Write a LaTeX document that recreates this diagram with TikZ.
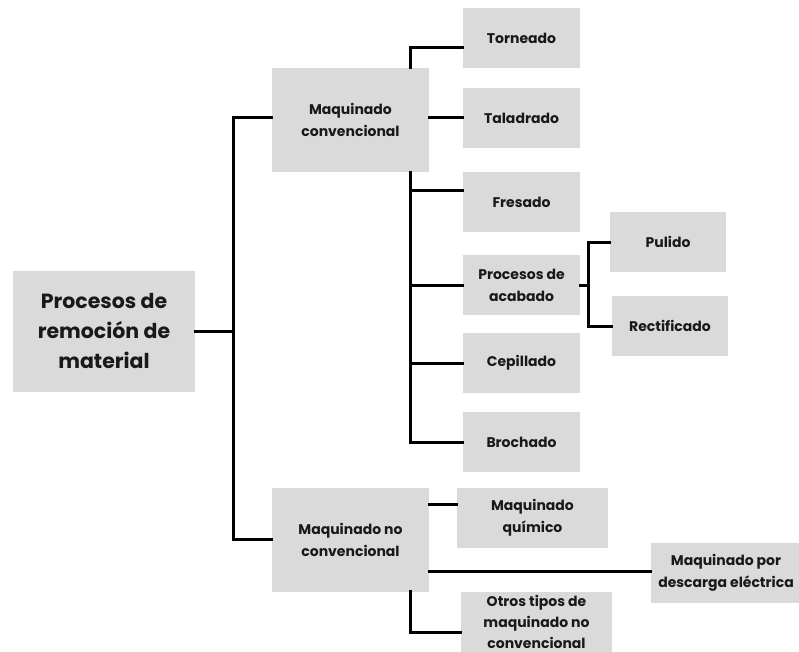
\documentclass[tikz,border=0pt]{standalone}
\usepackage{fontspec}
\setmainfont{Poppins}
\definecolor{boxgray}{HTML}{DADADA}
\begin{document}
\begin{tikzpicture}[x=1pt,y=-1pt,
  box/.style={fill=boxgray, draw=none, inner sep=0pt, align=center,
    font=\fontsize{14}{22}\selectfont\bfseries, text=black!90},
  link/.style={line width=3pt, black, line cap=rect}]
\useasboundingbox (0,0) rectangle (799,652);
\fill[white] (0,0) rectangle (799,652);
% nodes
\node[box, minimum width=182, minimum height=121, font=\fontsize{20.5}{30}\selectfont\bfseries] (root) at (104,331) {Procesos de\\remoción de\\material};
\node[box, minimum width=157, minimum height=104] (mc) at (350.5,120) {Maquinado\\convencional};
\node[box, minimum width=157, minimum height=104] (mnc) at (350.5,539.5) {Maquinado no\\convencional};
\node[box, minimum width=117, minimum height=60] (torn) at (521.5,38) {Torneado};
\node[box, minimum width=117, minimum height=60] (tal) at (521.5,118) {Taladrado};
\node[box, minimum width=117, minimum height=60] (fres) at (521.5,202) {Fresado};
\node[box, minimum width=117, minimum height=60] (pa) at (521.5,285) {Procesos de\\acabado};
\node[box, minimum width=117, minimum height=60] (cep) at (521.5,363) {Cepillado};
\node[box, minimum width=117, minimum height=60] (broch) at (521.5,442) {Brochado};
\node[box, minimum width=116, minimum height=60] (pul) at (668,242) {Pulido};
\node[box, minimum width=116, minimum height=60] (rect) at (670,326) {Rectificado};
\node[box, minimum width=151, minimum height=60] (mq) at (532.5,518) {Maquinado\\químico};
\node[box, minimum width=150, minimum height=60] (dis) at (726,573) {Maquinado por\\descarga eléctrica};
\node[box, minimum width=151, minimum height=60, font=\fontsize{14}{21}\selectfont\bfseries] (otr) at (536.5,622) {Otros tipos de\\maquinado no\\convencional};
% bus coordinates
\coordinate (trunk) at (233,0);
\coordinate (busA) at (410,0);
\coordinate (busB) at (588,0);
\coordinate (fresIn) at ([yshift=11pt]fres.west);
\coordinate (mqIn) at ([yshift=14pt]mq.west);
\coordinate (disIn) at ([yshift=2pt]dis.west);
\coordinate (otrIn) at ([yshift=-10pt]otr.west);
\coordinate (tornIn) at ([yshift=-10pt]torn.west);
% connectors
\draw[link] (root.east) -- (root.east -| trunk);
\draw[link] ([yshift=2pt]mc.west) -| (trunk |- mnc.west) -- (mnc.west);
\draw[link] (tornIn) -| (mc.north -| busA);
\draw[link] (tal.west -| mc.east) -- (tal.west);
\draw[link] (mc.south -| busA) |- (broch.west);
\draw[link] (fresIn -| busA) -- (fresIn);
\draw[link] (pa.west -| busA) -- (pa.west);
\draw[link] (cep.west -| busA) -- (cep.west);
\draw[link] (pa.east) -- (pa.east -| busB);
\draw[link] (pul.west) -| (busB |- pa.east) |- (rect.west);
\draw[link] (mqIn -| mnc.east) -- (mqIn);
\draw[link] (disIn -| mnc.east) -- (disIn);
\draw[link] (mnc.south -| busA) |- (otrIn);
\end{tikzpicture}
\end{document}
